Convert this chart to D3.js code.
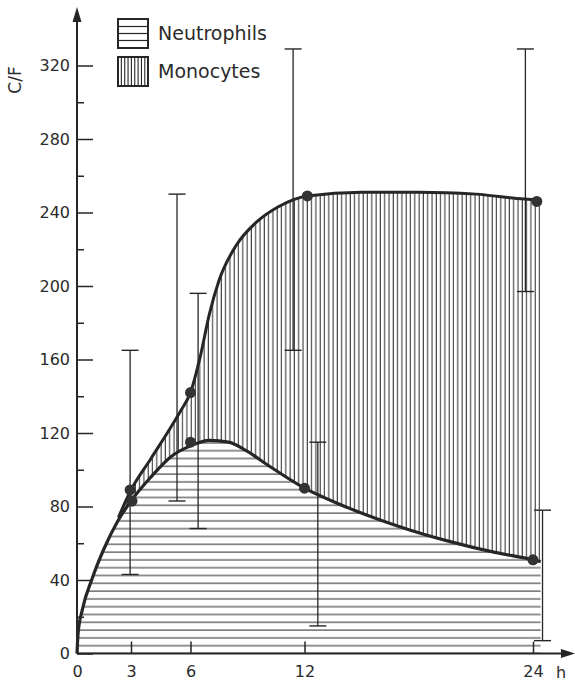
<!DOCTYPE html>
<html>
<head>
<meta charset="utf-8">
<script src="https://cdn.jsdelivr.net/npm/d3@7"></script>
<style>
  body { margin: 0; background: #fff; }
  text { font-family: "DejaVu Sans", sans-serif; fill: #2b2b2b; }
</style>
</head>
<body>
<div id="chart"></div>
<script>

// axis ticks
var xTicks = [0, 3, 6, 12, 24];
var yMajor = [0, 40, 80, 120, 160, 200, 240, 280, 320];
var yMinor = [20, 60, 100, 140, 180, 220, 260, 300];

// neutrophils curve (lower boundary)
var neutroHours = [0, 0.06, 0.3, 0.85, 1.5, 2.26, 3, 4, 5, 6, 7, 8, 9, 10, 12, 13.9, 17, 19.6, 22, 24, 24.4];
var neutroVals  = [0, 11, 24, 41, 57, 72, 83, 96, 107, 113, 116, 115, 110, 103, 90, 81, 69, 61, 55, 51, 50];

// neutrophils + monocytes curve (upper boundary)
var monoHours = [2.3, 3, 4, 5, 5.5, 6, 6.5, 7, 7.5, 8.4, 9.5, 10.6, 12.15, 15, 18, 21, 24.2, 24.4];
var monoVals  = [74, 89, 106, 123, 132, 142, 161, 185, 203, 222, 235, 243, 249, 251, 251, 250, 247, 247];

// measured points
var neutroPtHours = [3.05, 6, 12, 24];
var neutroPtVals  = [83, 115, 90, 51];
var monoPtHours   = [2.95, 6, 12.15, 24.2];
var monoPtVals    = [89, 142, 249, 246];

// error bars
var barHours = [2.95, 5.32, 6.4, 11.4, 12.7, 23.6, 24.5];
var barLow   = [43, 83, 68, 165, 15, 197, 7];
var barHigh  = [165, 250, 196, 329, 115, 329, 78];

var width = 575, height = 681;
var ink = "#262626";

var svg = d3.select("#chart")
  .append("svg")
    .attr("width", width)
    .attr("height", height);

// the printed time axis is not quite even, so map each labelled hour
var x = d3.scaleLinear()
  .domain(xTicks)
  .range([77, 131, 190.5, 304.5, 533]);

var y = d3.scaleLinear()
  .domain([0, 320])
  .range([653.5, 65.5]);

// hatch patterns
var defs = svg.append("defs");
var hpat = defs.append("pattern")
    .attr("id", "hpat")
    .attr("patternUnits", "userSpaceOnUse")
    .attr("width", 10)
    .attr("height", 7.8)
    .attr("y", y(0) - 4);
hpat.append("rect").attr("width", 10).attr("height", 7.8).attr("fill", "#fff");
hpat.append("line")
    .attr("x1", 0).attr("x2", 10)
    .attr("y1", 4).attr("y2", 4)
    .attr("stroke", "#3a3a3a").attr("stroke-width", 1.1);

var vpat = defs.append("pattern")
    .attr("id", "vpat")
    .attr("patternUnits", "userSpaceOnUse")
    .attr("width", 4.3)
    .attr("height", 10);
vpat.append("rect").attr("width", 4.3).attr("height", 10).attr("fill", "#fff");
vpat.append("line")
    .attr("x1", 2).attr("x2", 2)
    .attr("y1", 0).attr("y2", 10)
    .attr("stroke", "#3a3a3a").attr("stroke-width", 1.1);

var neutro = neutroHours.map(function(h, i){ return [h, neutroVals[i]]; });
var mono = monoHours.map(function(h, i){ return [h, monoVals[i]]; });

var area = d3.area()
  .x(function(d){ return x(d[0]); })
  .y0(y(0))
  .y1(function(d){ return y(d[1]); })
  .curve(d3.curveMonotoneX);

var line = d3.line()
  .x(function(d){ return x(d[0]); })
  .y(function(d){ return y(d[1]); })
  .curve(d3.curveMonotoneX);

// monocytes sit on top of the neutrophils
svg.append("path")
  .datum(mono)
  .attr("d", area)
  .attr("fill", "url(#vpat)");

svg.append("path")
  .datum(neutro)
  .attr("d", area)
  .attr("fill", "url(#hpat)");

// error bars
var bars = svg.selectAll(".bar")
  .data(barHours)
  .enter()
  .append("g")
    .attr("class", "bar");

bars.append("line")
  .attr("x1", function(d){ return x(d); })
  .attr("x2", function(d){ return x(d); })
  .attr("y1", function(d, i){ return y(barLow[i]); })
  .attr("y2", function(d, i){ return y(barHigh[i]); })
  .attr("stroke", ink).attr("stroke-width", 1.3);

bars.append("line")
  .attr("x1", function(d){ return x(d) - 8.5; })
  .attr("x2", function(d){ return x(d) + 8.5; })
  .attr("y1", function(d, i){ return y(barHigh[i]); })
  .attr("y2", function(d, i){ return y(barHigh[i]); })
  .attr("stroke", ink).attr("stroke-width", 1.4);

bars.append("line")
  .attr("x1", function(d){ return x(d) - 8.5; })
  .attr("x2", function(d){ return x(d) + 8.5; })
  .attr("y1", function(d, i){ return y(barLow[i]); })
  .attr("y2", function(d, i){ return y(barLow[i]); })
  .attr("stroke", ink).attr("stroke-width", 1.4);

// curves
svg.append("path")
  .datum(neutro)
  .attr("d", line)
  .attr("fill", "none")
  .attr("stroke", ink)
  .attr("stroke-width", 3.2);

svg.append("path")
  .datum(mono)
  .attr("d", line)
  .attr("fill", "none")
  .attr("stroke", ink)
  .attr("stroke-width", 3);

// points
svg.selectAll(".nPt")
  .data(neutroPtHours)
  .enter()
  .append("circle")
    .attr("class", "nPt")
    .attr("cx", function(d){ return x(d); })
    .attr("cy", function(d, i){ return y(neutroPtVals[i]); })
    .attr("r", 5.5)
    .attr("fill", "#333");

svg.selectAll(".mPt")
  .data(monoPtHours)
  .enter()
  .append("circle")
    .attr("class", "mPt")
    .attr("cx", function(d){ return x(d); })
    .attr("cy", function(d, i){ return y(monoPtVals[i]); })
    .attr("r", 5.5)
    .attr("fill", "#333");

// y axis
var yAxis = svg.append("g")
  .attr("transform", "translate(" + x(0) + ",0)")
  .call(d3.axisLeft(y).tickValues(yMajor).tickSizeInner(-16).tickSizeOuter(0).tickPadding(7));
yAxis.select(".domain").remove();
yAxis.selectAll("line").attr("stroke", ink).attr("stroke-width", 1.5);
yAxis.selectAll("text")
  .attr("fill", "#2b2b2b")
  .style("font-size", "16px")
  .style("font-family", "DejaVu Sans, sans-serif");

var yMinorAxis = svg.append("g")
  .attr("transform", "translate(" + x(0) + ",0)")
  .call(d3.axisLeft(y).tickValues(yMinor).tickSizeInner(-7).tickSizeOuter(0).tickFormat(""));
yMinorAxis.select(".domain").remove();
yMinorAxis.selectAll("line").attr("stroke", ink).attr("stroke-width", 1.5);

// x axis
var xAxis = svg.append("g")
  .attr("transform", "translate(0," + y(0) + ")")
  .call(d3.axisBottom(x).tickValues(xTicks).tickSizeInner(-12).tickSizeOuter(0).tickPadding(12));
xAxis.select(".domain").remove();
xAxis.selectAll("line").attr("stroke", ink).attr("stroke-width", 1.5);
xAxis.selectAll("text")
  .attr("fill", "#2b2b2b")
  .style("font-size", "16px")
  .style("font-family", "DejaVu Sans, sans-serif");

// axis lines with arrow heads
svg.append("line")
  .attr("x1", x(0)).attr("x2", x(0))
  .attr("y1", y(0)).attr("y2", 16)
  .attr("stroke", ink).attr("stroke-width", 2);
svg.append("path")
  .attr("d", "M" + x(0) + ",7 L" + (x(0) - 4.5) + ",22 L" + (x(0) + 4.5) + ",22 Z")
  .attr("fill", ink);

svg.append("line")
  .attr("x1", x(0)).attr("x2", 566)
  .attr("y1", y(0)).attr("y2", y(0))
  .attr("stroke", ink).attr("stroke-width", 2);
svg.append("path")
  .attr("d", "M575," + y(0) + " L561," + (y(0) - 4.5) + " L561," + (y(0) + 4.5) + " Z")
  .attr("fill", ink);

svg.append("text")
  .attr("x", 561)
  .attr("y", 678)
  .attr("text-anchor", "middle")
  .attr("font-size", "16px")
  .text("h");

svg.append("text")
  .attr("transform", "translate(21,80) rotate(-90)")
  .attr("text-anchor", "middle")
  .attr("font-size", "17px")
  .text("C/F");

// legend
var legend = svg.append("g").attr("transform", "translate(118,19)");

legend.append("rect")
  .attr("width", 30).attr("height", 29)
  .attr("fill", "#fff").attr("stroke", ink).attr("stroke-width", 2);
legend.selectAll(".hl")
  .data([7.5, 14.5, 21.5])
  .enter()
  .append("line")
    .attr("x1", 0).attr("x2", 30)
    .attr("y1", function(d){ return d; })
    .attr("y2", function(d){ return d; })
    .attr("stroke", ink).attr("stroke-width", 1.2);

legend.append("text")
  .attr("x", 40).attr("y", 21)
  .attr("font-size", "19px")
  .text("Neutrophils");

legend.append("rect")
  .attr("y", 38)
  .attr("width", 30).attr("height", 29)
  .attr("fill", "#fff").attr("stroke", ink).attr("stroke-width", 2);
legend.selectAll(".vl")
  .data(d3.range(1, 9))
  .enter()
  .append("line")
    .attr("x1", function(d){ return d * 3.35; })
    .attr("x2", function(d){ return d * 3.35; })
    .attr("y1", 38).attr("y2", 67)
    .attr("stroke", ink).attr("stroke-width", 1.1);

legend.append("text")
  .attr("x", 40).attr("y", 59)
  .attr("font-size", "19px")
  .text("Monocytes");

</script>
</body>
</html>
